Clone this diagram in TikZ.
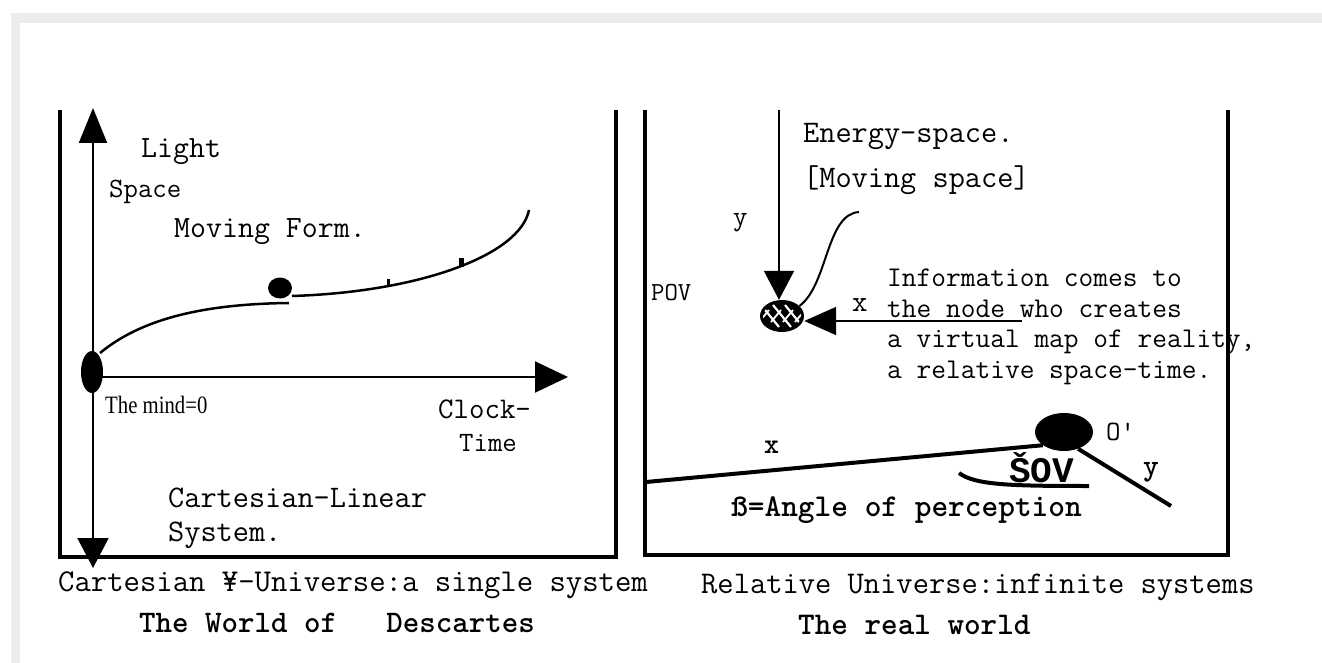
\documentclass[tikz,border=0pt]{standalone}
\usepackage{fontspec}
\usepackage{graphicx}
\usetikzlibrary{arrows.meta,shapes.geometric}
\newfontfamily\timesf{Liberation Serif}
\newfontfamily\monob{Liberation Mono}
\newcommand\myfs[1]{\fontsize{#1}{#1}\selectfont}
\definecolor{framegray}{HTML}{ECECEC}
\tikzset{
  txt/.style={inner sep=0pt, anchor=west, font=\ttfamily},
  boxline/.style={line width=4pt},
  axisline/.style={line width=2pt},
  curveline/.style={line width=2.5pt},
  thickline/.style={line width=4pt},
  blob/.style={ellipse, fill=black, inner sep=0pt},
}
\begin{document}
\begin{tikzpicture}[x=1pt,y=-1pt]
\useasboundingbox (0,0) rectangle (1322,663);
\fill[white] (0,0) rectangle (1322,663);
\fill[framegray] (11,13) rectangle (1322,23);
\fill[framegray] (11,13) rectangle (20,663);

% ---------- left box ----------
\coordinate (lbtl) at (60,110);
\coordinate (lbbl) at (60,557);
\coordinate (lbbr) at (616,557);
\coordinate (lbtr) at (616,110);
\draw[boxline] (lbtl) -- (lbbl) -- (lbbr) -- (lbtr);

% axes
\coordinate (ytop) at (93,108);
\coordinate (ybot) at (93,568);
\draw[axisline, {Triangle[length=30pt,width=31pt]}-{Triangle[length=35pt,width=28pt]}] (ybot) -- (ytop);
\node[blob, minimum width=22pt, minimum height=42pt] (origin) at (92,372) {};
\coordinate (xstart) at (93,377);
\coordinate (xend) at (568,377);
\draw[axisline, -{Triangle[length=33pt,width=31pt]}] (xstart) -- (xend);

% curve
\node[blob, minimum width=24pt, minimum height=21pt] (dot) at (280,288) {};
\coordinate (c1s) at (100,353);
\coordinate (c1e) at (289,303);
\draw[curveline] (c1s) .. controls (140,320) and (200,304) .. (c1e);
\coordinate (c2s) at (292,296);
\coordinate (c2e) at (529,210);
\draw[curveline] (c2s) .. controls (420,292) and (520,255) .. (c2e);
\coordinate (t1a) at (388,286);
\coordinate (t1b) at (388,279);
\draw[line width=3pt] (t1a) -- (t1b);
\coordinate (t2a) at (461,267);
\coordinate (t2b) at (461,258);
\draw[line width=5pt] (t2a) -- (t2b);

% texts left
\node[txt] (light) at (141,152) {\myfs{31}Light};
\node[txt] (space) at (109,192) {\myfs{28}Space};
\node[txt] (movform) at (174,232) {\myfs{31}Moving Form.};
\node[inner sep=0pt, anchor=base west] (mind) at (105,413) {\timesf\myfs{25}\scalebox{0.83}[1]{The mind=0}};
\node[txt] (clock) at (438,409) {\myfs{30}Clock-};
\node[txt] (time) at (459,443) {\myfs{28}Time};
\node[txt] (cartlin) at (168,498) {\myfs{31.4}Cartesian-Linear};
\node[txt] (system) at (168,535) {\myfs{31.4}System.};
\node[txt] (capl) at (58,585) {\myfs{31.8}Cartesian ¥-Universe:a single system};
\node[txt] (titl) at (139,623) {\myfs{31.4}\bfseries The World of~~~Descartes};

% ---------- right box ----------
\coordinate (rbtl) at (645,110);
\coordinate (rbbl) at (645,555);
\coordinate (rbbr) at (1228,555);
\coordinate (rbtr) at (1228,110);
\draw[boxline] (rbtl) -- (rbbl) -- (rbbr) -- (rbtr);

% hub node
\node[blob, minimum width=44pt, minimum height=32pt] (hub) at (782,316) {};
\begin{scope}
  \clip (782,316) ellipse [x radius=19pt, y radius=13pt];
  \foreach \k in {-12,0,12} {
    \draw[white, line width=2.2pt] (782+\k-9,305) -- (782+\k+9,327);
  }
  \foreach \k in {-18,-6,6,18} {
    \draw[white, line width=1.8pt] (782+\k+5,310) -- (782+\k-5,322);
  }
\end{scope}

\coordinate (ystart) at (779,110);
\draw[axisline, -{Triangle[length=29pt,width=30pt]}] (ystart) -- (ystart |- hub.north);
\coordinate (xsrc) at (1022,321);
\draw[axisline, -{Triangle[length=32pt,width=28pt]}] (xsrc) -- (xsrc -| hub.east);
\coordinate (ctop) at (859,212);
\draw[line width=2pt] (ctop) .. controls (826,214) and (828,285) .. (hub.30);

\node[txt] (energy) at (803,137) {\myfs{31.4}Energy-space.};
\node[txt] (movsp) at (803,180) {\myfs{31.4}[Moving space]};
\node[txt] (ylab) at (733,223) {\myfs{28}y};
\node[txt] (pov) at (651,293) {\myfs{26}POV};
\node[txt] (xlab) at (852,305) {\myfs{30}x};
\node[txt] (info1) at (887,278) {\myfs{28.6}Information comes to};
\node[txt] (info2) at (887,309) {\myfs{28.6}the node who creates};
\node[txt] (info3) at (887,342) {\myfs{28.6}a virtual map of reality,};
\node[txt] (info4) at (887,373) {\myfs{28.6}a relative space-time.};

% bottom right figure
\node[blob, minimum width=58pt, minimum height=38pt] (obs) at (1064,432) {};
\coordinate (xlstart) at (646,482);
\draw[thickline] (xlstart) -- (obs.212);
\coordinate (ylend) at (1171,506);
\draw[thickline] (obs.-50) -- (ylend);
\coordinate (arcs) at (959,473);
\coordinate (arce) at (1089,486);
\draw[thickline] (arcs) .. controls (975,485) and (1010,486) .. (arce);

\node[txt] (xbold) at (764,447) {\myfs{28.6}\bfseries x};
\node[txt] (oprime) at (1106,432) {\myfs{28}O'};
\node[inner sep=0pt, anchor=west] (sov) at (1009,468) {\monob\myfs{36}\bfseries ŠOV};
\node[txt] (ybold) at (1143,472) {\myfs{30}\bfseries y};
\node[txt] (beta) at (731,510) {\myfs{31.8}\bfseries ß=Angle of perception};
\node[txt] (capr) at (701,587) {\myfs{31.6}Relative Universe:infinite systems};
\node[txt] (titr) at (798,625) {\myfs{31.6}\bfseries The real world};
\end{tikzpicture}
\end{document}
